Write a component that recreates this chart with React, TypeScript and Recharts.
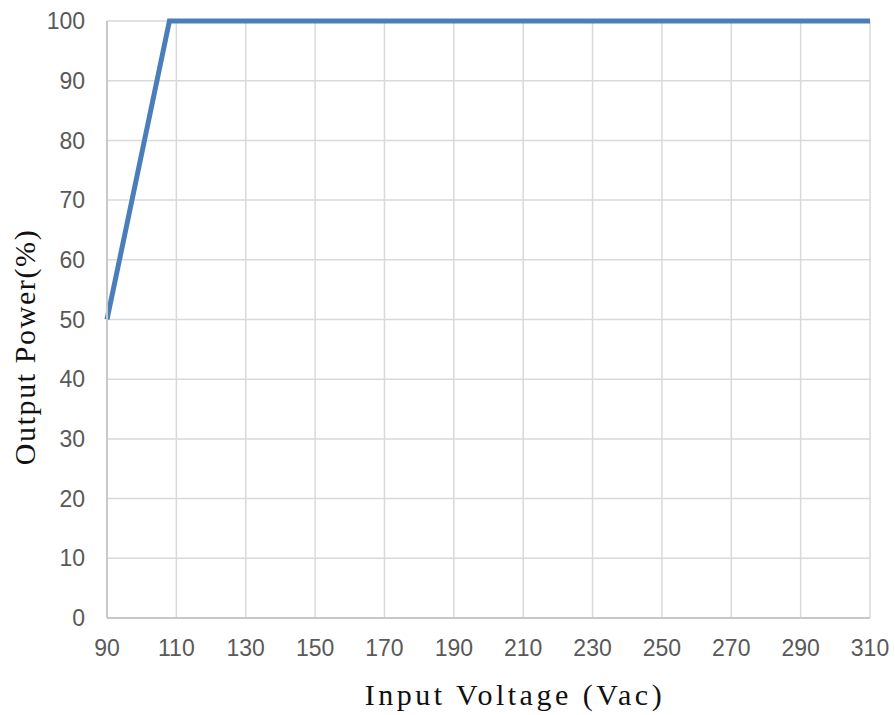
import { LineChart, Line, XAxis, YAxis, CartesianGrid } from 'recharts'

// output power derating curve
const voltage = [90, 108, 310]
const power = [50, 100, 100]
const xTicks = [90, 110, 130, 150, 170, 190, 210, 230, 250, 270, 290, 310]
const yTicks = [0, 10, 20, 30, 40, 50, 60, 70, 80, 90, 100]

const data = voltage.map((v, i) => ({ v, p: power[i] }))

const titleFont = '"Liberation Serif", "DejaVu Serif", serif'

export default function App() {
  return (
    <div style={{ position: 'absolute', left: 0, top: 0, width: 895, height: 715, background: '#fff' }}>
      <LineChart width={895} height={715} data={data} margin={{ top: 21, right: 25, left: 0, bottom: 0 }}>
        <CartesianGrid stroke="#d9d9d9" strokeWidth={1.5} />
        <XAxis
          dataKey="v"
          type="number"
          domain={[90, 310]}
          ticks={xTicks}
          interval={0}
          height={97}
          axisLine={{ stroke: '#c8c8c8', strokeWidth: 2 }}
          tickLine={false}
          tickMargin={16}
          tick={{ fontSize: 23, fill: '#595959', fontFamily: '"Liberation Sans", Arial, sans-serif' }}
          label={() => (
            <text
              x={515}
              y={705}
              textAnchor="middle"
              fontFamily={titleFont}
              fontSize={30}
              letterSpacing={3.5}
              fill="#111"
            >
              Input Voltage (Vac)
            </text>
          )}
        />
        <YAxis
          type="number"
          domain={[0, 100]}
          ticks={yTicks}
          interval={0}
          width={107}
          axisLine={{ stroke: '#c8c8c8', strokeWidth: 2 }}
          tickLine={false}
          tickMargin={16}
          tick={{ fontSize: 23, fill: '#595959', fontFamily: '"Liberation Sans", Arial, sans-serif' }}
          label={() => (
            <text
              x={35}
              y={347}
              transform="rotate(-90, 35, 347)"
              textAnchor="middle"
              fontFamily={titleFont}
              fontSize={30}
              letterSpacing={1.6}
              fill="#111"
            >
              Output Power(%)
            </text>
          )}
        />
        <Line
          type="linear"
          dataKey="p"
          stroke="#4a7ebb"
          strokeWidth={5}
          dot={false}
          isAnimationActive={false}
        />
      </LineChart>
    </div>
  )
}
